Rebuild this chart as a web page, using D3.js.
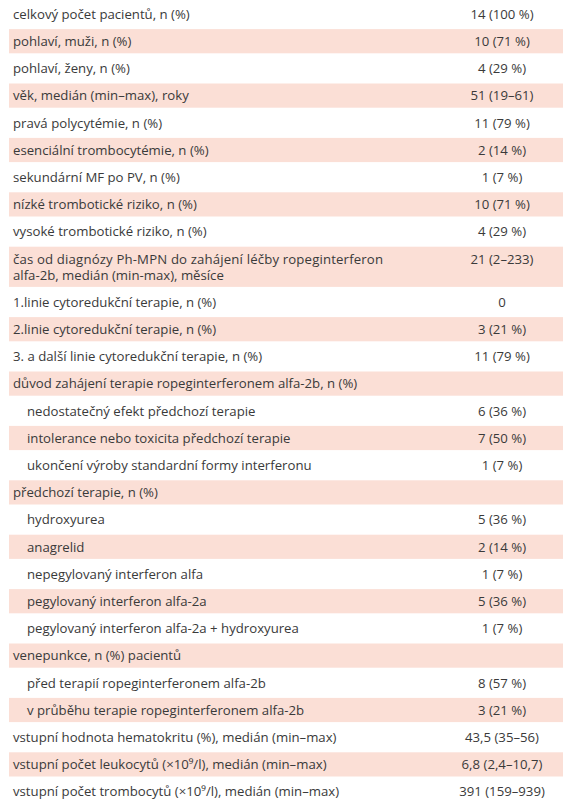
<!DOCTYPE html>
<html><head><meta charset="utf-8">
<script src="https://cdn.jsdelivr.net/npm/d3@7"></script>
<style>body{margin:0;background:#fff}</style>
</head><body><svg id="c" width="571" height="800"></svg>
<script>
const labels = [
 ["celkový počet pacientů, n (%)"],
 ["pohlaví, muži, n (%)"],
 ["pohlaví, ženy, n (%)"],
 ["věk, medián (min–max), roky"],
 ["pravá polycytémie, n (%)"],
 ["esenciální trombocytémie, n (%)"],
 ["sekundární MF po PV, n (%)"],
 ["nízké trombotické riziko, n (%)"],
 ["vysoké trombotické riziko, n (%)"],
 ["čas od diagnózy Ph-MPN do zahájení léčby ropeginterferon","alfa-2b, medián (min-max), měsíce"],
 ["1.linie cytoredukční terapie, n (%)"],
 ["2.linie cytoredukční terapie, n (%)"],
 ["3. a další linie cytoredukční terapie, n (%)"],
 ["důvod zahájení terapie ropeginterferonem alfa-2b, n (%)"],
 ["nedostatečný efekt předchozí terapie"],
 ["intolerance nebo toxicita předchozí terapie"],
 ["ukončení výroby standardní formy interferonu"],
 ["předchozí terapie, n (%)"],
 ["hydroxyurea"],
 ["anagrelid"],
 ["nepegylovaný interferon alfa"],
 ["pegylovaný interferon alfa-2a"],
 ["pegylovaný interferon alfa-2a + hydroxyurea"],
 ["venepunkce, n (%) pacientů"],
 ["před terapií ropeginterferonem alfa-2b"],
 ["v průběhu terapie ropeginterferonem alfa-2b"],
 ["vstupní hodnota hematokritu (%), medián (min–max)"],
 ["vstupní počet leukocytů (×10⁹/l), medián (min–max)"],
 ["vstupní počet trombocytů (×10⁹/l), medián (min–max)"]
];
const values = ["14 (100 %)","10 (71 %)","4 (29 %)","51 (19–61)","11 (79 %)","2 (14 %)","1 (7 %)","10 (71 %)","4 (29 %)","21 (2–233)","0","3 (21 %)","11 (79 %)","","6 (36 %)","7 (50 %)","1 (7 %)","","5 (36 %)","2 (14 %)","1 (7 %)","5 (36 %)","1 (7 %)","","8 (57 %)","3 (21 %)","43,5 (35–56)","6,8 (2,4–10,7)","391 (159–939)"];
const indented = [14,15,16,18,19,20,21,22,24,25];

const svg = d3.select("#c");
const pitch = 27.2, lineH = 16, top0 = 0.4;
let y = top0;
const rows = labels.map((l,i)=>{ const h = pitch + (l.length-1)*lineH; const r={i,l,v:values[i],y,h}; y+=h; return r;});
const x = d3.scaleLinear().domain([0,1]).range([9,563]);
const g = svg.selectAll("g.row").data(rows).join("g").attr("class","row");
g.filter(d=>d.i%2===1).append("rect")
 .attr("x",x(0)).attr("width",x(1)-x(0))
 .attr("y",d=>d.y+1.5).attr("height",d=>d.h-3).attr("fill","#fbdfd6");
const font = "Open Sans", fs = 13.2;
g.each(function(d){
  const s=d3.select(this);
  const tx = indented.includes(d.i)?27:13;
  d.l.forEach((t,k)=>s.append("text").attr("x",tx).attr("y",d.y+pitch/2+4.8+k*lineH)
   .text(t).attr("font-family",font).attr("font-size",fs).attr("fill","#3a3a3a")
   .attr("textLength", d.i===9 && k===0 ? 370 : null));
  s.append("text").attr("x",502).attr("y",d.y+pitch/2+4.8).attr("text-anchor","middle")
   .text(d.v).attr("font-family",font).attr("font-size",fs).attr("fill","#3a3a3a");
});
</script></body></html>
